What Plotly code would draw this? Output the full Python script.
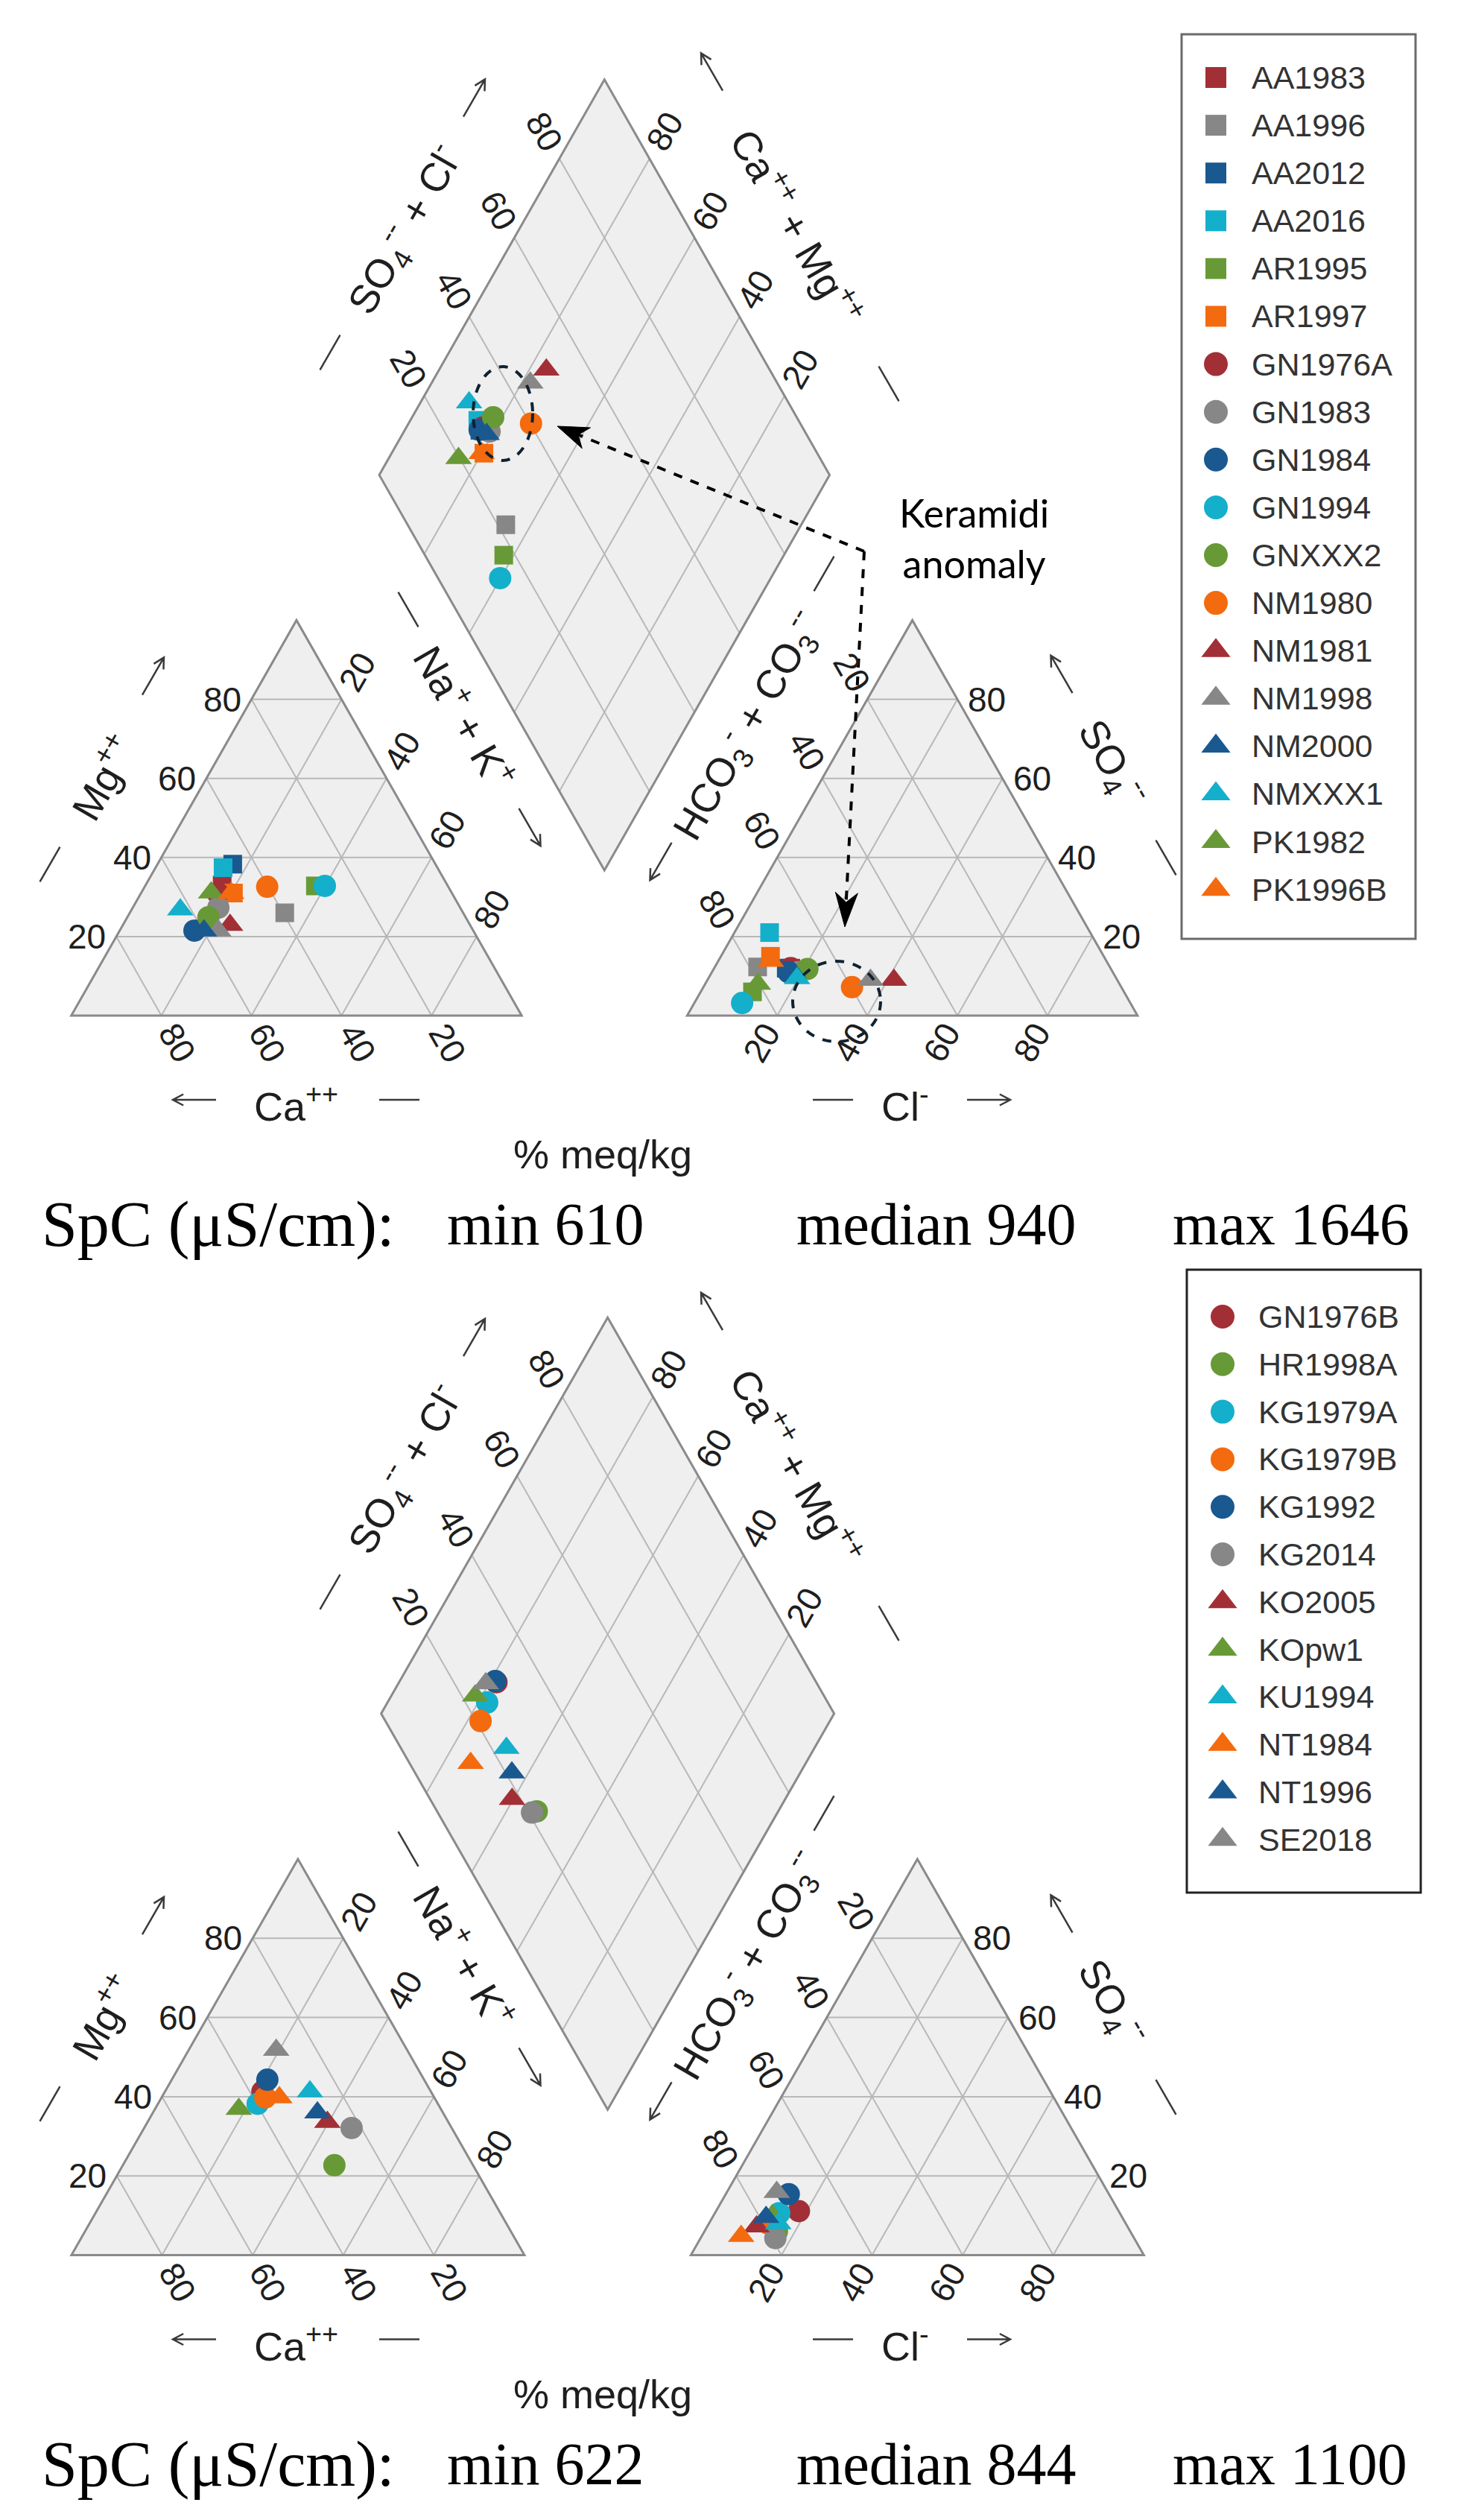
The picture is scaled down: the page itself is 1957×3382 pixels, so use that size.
import numpy as np
import plotly.graph_objects as go

W, H = 1957, 3382
R3 = np.sqrt(3) / 2
GAP = 36.75  # gap between the two triangles (in triangle-side % units)

RED, GRAY, DBLUE, CYAN, GREEN, ORANGE = "#A32F36", "#878787", "#1A5890", "#14AFCB", "#689937", "#F46A0E"

# ---------------- top diagram data (% meq/kg) ----------------
top_names = ["AA1983", "AA1996", "AA2012", "AA2016", "AR1995", "AR1997",
             "GN1976A", "GN1983", "GN1984", "GN1994", "GNXXX2", "NM1980",
             "NM1981", "NM1998", "NM2000", "NMXXX1", "PK1982", "PK1996B"]
top_symbols = ["square"] * 6 + ["circle"] * 6 + ["triangle-up"] * 6
top_colors = [RED, GRAY, DBLUE, CYAN, GREEN, ORANGE] * 3
top_ca = [50, 39.6, 45, 47.6, 29.4, 48.5, 52, 53.7, 61.9, 27.3, 57.1, 40.2, 53.3, 56.6, 59.8, 62.4, 53.4, 49]
top_mg = [33, 26, 38.3, 37.4, 32.8, 31, 31, 27.3, 21.5, 32.8, 24.9, 32.6, 22.9, 21.5, 21.5, 26.8, 31.1, 31]
top_so4 = [12, 12.3, 12, 21, 6, 15, 12, 11, 11, 3.2, 11.8, 7.2, 9, 9, 11, 9.4, 8, 13.8]
top_cl = [17, 9.5, 16, 7.8, 11.5, 11, 17, 19, 17, 10.6, 20.8, 33, 41.4, 36.2, 18, 19.7, 11.7, 11.7]
top_spc = ["SpC (μS/cm):", "min 610", "median 940", "max 1646"]

# ---------------- bottom diagram data (% meq/kg) ----------------
bot_names = ["GN1976B", "HR1998A", "KG1979A", "KG1979B", "KG1992", "KG2014",
             "KO2005", "KOpw1", "KU1994", "NT1984", "NT1996", "SE2018"]
bot_symbols = ["circle"] * 6 + ["triangle-up"] * 6
bot_colors = [RED, GREEN, CYAN, ORANGE, DBLUE, GRAY] * 2
bot_ca = [37.2, 30.6, 39.8, 37.3, 34.6, 22.1, 26.7, 44.6, 26.7, 34.2, 27.7, 28.9]
bot_mg = [41.3, 22.7, 38.2, 39.8, 44.3, 32.1, 33.6, 36.9, 41.3, 39.8, 36.0, 51.8]
bot_so4 = [11.1, 6, 10.6, 8, 15.4, 4.3, 7.2, 10, 8, 4.8, 9.6, 15.9]
bot_cl = [18.3, 16, 14.2, 13, 13.9, 16.5, 10.9, 13, 15.3, 8.7, 11.8, 11]
bot_spc = ["SpC (μS/cm):", "min 622", "median 844", "max 1100"]

grid_ticks = [20, 40, 60, 80]

# ---------------- Piper projection ----------------
def cation_xy(ca, mg):
    nak = 100 - ca - mg
    return nak + mg / 2, mg * R3

def anion_xy(so4, cl):
    return 100 + GAP + cl + so4 / 2, so4 * R3

BX, BY = 100 + GAP / 2, GAP * R3

def diamond_ac(a, c):
    return BX + 0.5 * (a - c), BY + R3 * (a + c)

def diamond_xy(ca, mg, so4, cl):
    return diamond_ac(so4 + cl, ca + mg)

# ---------------- layout configs ----------------
top_cfg = dict(xa="x", ya="y", ox=95.7, oy=1363.0, sx=6.045, sy=6.127, dom=[0.5, 1.0], dy=0.0)
bot_cfg = dict(xa="x2", ya="y2", ox=95.9, oy=3026.5, sx=6.08, sy=6.137, dom=[0.0, 0.5], dy=1663.5)

def P(px, py):
    return px / W, 1 - py / H

fig = go.Figure()
shapes, annotations = [], []

TICK_FONT = dict(family="Liberation Sans, Arial", size=46, color="#1e1e1e")
TITLE_FONT = dict(family="Liberation Sans, Arial", size=54, color="#1e1e1e")
FILL, GRID, FRAME = "#EFEFEF", "#B8B8B8", "#8A8A8A"
MSIZE = {"square": 25, "circle": 30, "triangle-up": 31}
LSIZE = {"square": 28, "circle": 32, "triangle-up": 34}


def axes_for(cfg):
    x0 = -cfg["ox"] / cfg["sx"]
    x1 = (W - cfg["ox"]) / cfg["sx"]
    ptop = H * (1 - cfg["dom"][1])
    pbot = H * (1 - cfg["dom"][0])
    y0 = (cfg["oy"] - pbot) / cfg["sy"]
    y1 = (cfg["oy"] - ptop) / cfg["sy"]
    return x0, x1, y0, y1


def unit(dx, dy):
    n = np.hypot(dx, dy)
    return dx / n, dy / n


def draw_diagram(cfg, names, symbols, colors, ca, mg, so4, cl):
    xa, ya, sx, sy = cfg["xa"], cfg["ya"], cfg["sx"], cfg["sy"]

    def path(pts):
        return "M " + " L ".join(f"{x:.4f},{y:.4f}" for x, y in pts) + " Z"

    cat = [cation_xy(100, 0), cation_xy(0, 0), cation_xy(0, 100)]
    an = [anion_xy(0, 0), anion_xy(0, 100), anion_xy(100, 0)]
    dia = [diamond_ac(0, 0), diamond_ac(100, 0), diamond_ac(100, 100), diamond_ac(0, 100)]
    for poly in (cat, an, dia):
        shapes.append(dict(type="path", path=path(poly), xref=xa, yref=ya, fillcolor=FILL,
                           line=dict(width=0), layer="below"))

    def seg(p, q):
        shapes.append(dict(type="line", x0=p[0], y0=p[1], x1=q[0], y1=q[1], xref=xa, yref=ya,
                           line=dict(color=GRID, width=2), layer="below"))

    for v in grid_ticks:
        seg(cation_xy(100 - v, v), cation_xy(0, v))
        seg(cation_xy(v, 0), cation_xy(v, 100 - v))
        seg(cation_xy(100 - v, 0), cation_xy(0, 100 - v))
        seg(anion_xy(v, 0), anion_xy(v, 100 - v))
        seg(anion_xy(0, v), anion_xy(100 - v, v))
        seg(anion_xy(0, 100 - v), anion_xy(100 - v, 0))
        seg(diamond_ac(v, 0), diamond_ac(v, 100))
        seg(diamond_ac(0, v), diamond_ac(100, v))
    for poly in (cat, an, dia):
        shapes.append(dict(type="path", path=path(poly), xref=xa, yref=ya,
                           line=dict(color=FRAME, width=3), layer="below"))

    up_right = unit(0.5 * sx, -R3 * sy)
    down_right = unit(0.5 * sx, R3 * sy)
    up_left = (-down_right[0], -down_right[1])
    down_left = (-up_right[0], -up_right[1])
    off = 42

    def tick(pt, text, d=None, angle=0, xanchor="center", xshift=0):
        dx, dy = (d[0] * off, d[1] * off) if d is not None else (xshift, 0)
        annotations.append(dict(x=pt[0], y=pt[1], xref=xa, yref=ya, text=text, showarrow=False,
                                xanchor=xanchor, yanchor="middle", xshift=dx, yshift=-dy,
                                textangle=angle, font=TICK_FONT))

    for v in grid_ticks:
        s = str(v)
        tick(cation_xy(100 - v, v), s, None, 0, "right", -12)          # Mg
        tick(cation_xy(v, 0), s, down_right, 60)                        # Ca
        tick(cation_xy(0, 100 - v), s, up_right, -60)                   # Na+K
        tick(anion_xy(v, 100 - v), s, None, 0, "left", 12)              # SO4
        tick(anion_xy(0, v), s, down_left, -60)                         # Cl
        tick(anion_xy(100 - v, 0), s, up_left, 60)                      # HCO3
        tick(diamond_ac(v, 100), s, up_left, 60)                        # SO4+Cl
        tick(diamond_ac(100, v), s, up_right, -60)                      # Ca+Mg

    for i, name in enumerate(names):
        pts = [cation_xy(ca[i], mg[i]), anion_xy(so4[i], cl[i]), diamond_xy(ca[i], mg[i], so4[i], cl[i])]
        fig.add_trace(go.Scatter(x=[p[0] for p in pts], y=[p[1] for p in pts], xaxis=xa, yaxis=ya,
                                 mode="markers", name=name, showlegend=False, cliponaxis=False,
                                 marker=dict(symbol=symbols[i], size=MSIZE[symbols[i]], color=colors[i],
                                             opacity=1, line=dict(width=0))))


def draw_decor(cfg, spc):
    dy = cfg["dy"]
    titles = [
        ("Mg<sup>++</sup>", 137, 1043, -60),
        ("Ca<sup>++</sup>", 397, 1481, 0),
        ("Na<sup>+</sup> + K<sup>+</sup>", 625, 961, 60),
        ("HCO<sub>3</sub><sup>-</sup> + CO<sub>3</sub><sup>--</sup>", 1003, 974, -60),
        ("Cl<sup>-</sup>", 1215, 1481, 0),
        ("SO<sub>4</sub><sup>--</sup>", 1493, 1024, 60),
        ("SO<sub>4</sub><sup>--</sup> + Cl<sup>-</sup>", 543, 309, -60),
        ("Ca<sup>++</sup> + Mg<sup>++</sup>", 1071, 304, 60),
        ("% meq/kg", 809, 1549, 0),
    ]
    for text, px, py, ang in titles:
        x, y = P(px, py + dy)
        annotations.append(dict(x=x, y=y, xref="paper", yref="paper", text=text, showarrow=False,
                                xanchor="center", yanchor="middle", textangle=ang, font=TITLE_FONT))
    dashes = [(67, 1160, -60), (536, 1476, 0), (548, 818, 60), (1106, 770, -60),
              (1118, 1476, 0), (1565, 1151, 60), (443, 473, -60), (1193, 515, 60)]
    for cx, cy, ang in dashes:
        ux, uy = np.cos(np.radians(ang)), np.sin(np.radians(ang))
        L = 27
        x0, y0 = P(cx - ux * L, cy - uy * L + dy)
        x1, y1 = P(cx + ux * L, cy + uy * L + dy)
        shapes.append(dict(type="line", xref="paper", yref="paper", x0=x0, y0=y0, x1=x1, y1=y1,
                           line=dict(color="#3a3a3a", width=2.5)))
    arrows = [(205.5, 907.5, -60), (261, 1476, 180), (711, 1110, 60), (887, 1156, 120),
              (1327, 1476, 0), (1425, 905, -120), (636.5, 131.5, -60), (955.5, 96.5, -120)]
    for cx, cy, ang in arrows:
        ux, uy = np.cos(np.radians(ang)), np.sin(np.radians(ang))
        L = 29
        tx, ty = cx - ux * L, cy - uy * L + dy
        hx, hy = cx + ux * L, cy + uy * L + dy
        a = np.radians(28)
        bx, by = -ux, -uy
        h1 = (hx + 16 * (bx * np.cos(a) - by * np.sin(a)), hy + 16 * (bx * np.sin(a) + by * np.cos(a)))
        h2 = (hx + 16 * (bx * np.cos(-a) - by * np.sin(-a)), hy + 16 * (bx * np.sin(-a) + by * np.cos(-a)))
        pp = lambda p: "{:.6f},{:.6f}".format(*P(*p))
        shapes.append(dict(type="path", xref="paper", yref="paper",
                           path=f"M {pp((tx, ty))} L {pp((hx, hy))} M {pp(h1)} L {pp((hx, hy))} L {pp(h2)}",
                           line=dict(color="#3a3a3a", width=2.5)))
    xs = [54, 598, 1067, 1572]
    sizes = [86, 80, 80, 80]
    for text, px, fs in zip(spc, xs, sizes):
        x, y = P(px, 1643 + dy)
        annotations.append(dict(x=x, y=y, xref="paper", yref="paper", text=text, showarrow=False,
                                xanchor="left", yanchor="middle",
                                font=dict(family="Liberation Serif, Times New Roman", size=fs, color="#000000")))


def draw_legend(cfg, names, symbols, colors, box, y0, step, mx, tx, border):
    x0b, y0b = P(box[0], box[1])
    x1b, y1b = P(box[2], box[3])
    shapes.append(dict(type="rect", xref="paper", yref="paper", x0=x0b, y0=y0b, x1=x1b, y1=y1b,
                       line=dict(color=border, width=3), fillcolor="white", layer="below"))
    xs, ys = [], []
    for i, name in enumerate(names):
        py = y0 + i * step
        xs.append((mx - cfg["ox"]) / cfg["sx"])
        ys.append((cfg["oy"] - py) / cfg["sy"])
        x, y = P(tx, py)
        annotations.append(dict(x=x, y=y, xref="paper", yref="paper", text=name, showarrow=False,
                                xanchor="left", yanchor="middle",
                                font=dict(family="Liberation Sans, Arial", size=43, color="#333333")))
    fig.add_trace(go.Scatter(x=xs, y=ys, xaxis=cfg["xa"], yaxis=cfg["ya"], mode="markers",
                             showlegend=False, cliponaxis=False, hoverinfo="skip",
                             marker=dict(symbol=symbols, size=[LSIZE[s] for s in symbols], color=colors,
                                         opacity=1, line=dict(width=0))))


draw_diagram(top_cfg, top_names, top_symbols, top_colors, top_ca, top_mg, top_so4, top_cl)
draw_diagram(bot_cfg, bot_names, bot_symbols, bot_colors, bot_ca, bot_mg, bot_so4, bot_cl)
draw_decor(top_cfg, top_spc)
draw_decor(bot_cfg, bot_spc)
draw_legend(top_cfg, top_names, top_symbols, top_colors, (1586, 46, 1900, 1260), 104, 64.1, 1632, 1678, "#6b6b6b")
draw_legend(bot_cfg, bot_names, bot_symbols, bot_colors, (1593, 1704, 1907, 2540), 1767, 63.8, 1641, 1687, "#222222")

# ---------------- "Keramidi anomaly" call-out (top diagram) ----------------
NAVY = "#0E2233"
for cx, cy, rx, ry in [(675, 555, 40, 63), (1123, 1344, 59, 54)]:
    x0, y0 = P(cx - rx, cy + ry)
    x1, y1 = P(cx + rx, cy - ry)
    shapes.append(dict(type="circle", xref="paper", yref="paper", x0=x0, y0=y0, x1=x1, y1=y1,
                       line=dict(color=NAVY, width=4, dash="dash")))
corner = (1160, 740)
for tip, hl in [((748, 572), 42), ((1134, 1244), 46)]:
    ux, uy = unit(tip[0] - corner[0], tip[1] - corner[1])
    base = (tip[0] - ux * hl, tip[1] - uy * hl)
    inner = (tip[0] - ux * hl * 0.72, tip[1] - uy * hl * 0.72)
    px_, py_ = -uy, ux
    w = 15
    a, b = P(*corner)
    c, d = P(*inner)
    shapes.append(dict(type="line", xref="paper", yref="paper", x0=a, y0=b, x1=c, y1=d,
                       line=dict(color="black", width=4, dash="dash")))
    pts = [tip, (base[0] + px_ * w, base[1] + py_ * w), inner, (base[0] - px_ * w, base[1] - py_ * w)]
    shapes.append(dict(type="path", xref="paper", yref="paper",
                       path="M " + " L ".join("{:.6f},{:.6f}".format(*P(*p)) for p in pts) + " Z",
                       fillcolor="black", line=dict(color="black", width=1)))
kx, ky = P(1307, 722)
annotations.append(dict(x=kx, y=ky, xref="paper", yref="paper", text="Keramidi<br>anomaly", showarrow=False,
                        xanchor="center", yanchor="middle", align="center",
                        font=dict(family="Lato, Open Sans", size=52, color="#000000")))

tx0, tx1, ty0, ty1 = axes_for(top_cfg)
bx0, bx1, by0, by1 = axes_for(bot_cfg)
fig.update_layout(
    width=W, height=H, autosize=False,
    margin=dict(l=0, r=0, t=0, b=0, pad=0),
    paper_bgcolor="white", plot_bgcolor="rgba(0,0,0,0)",
    showlegend=False,
    xaxis=dict(range=[tx0, tx1], domain=[0, 1], visible=False, fixedrange=True, anchor="y"),
    yaxis=dict(range=[ty0, ty1], domain=top_cfg["dom"], visible=False, fixedrange=True, anchor="x"),
    xaxis2=dict(range=[bx0, bx1], domain=[0, 1], visible=False, fixedrange=True, anchor="y2"),
    yaxis2=dict(range=[by0, by1], domain=bot_cfg["dom"], visible=False, fixedrange=True, anchor="x2"),
    shapes=shapes, annotations=annotations,
)

fig.write_html("out.html", config={"displayModeBar": False},
               post_script="document.body.style.margin='0';")
